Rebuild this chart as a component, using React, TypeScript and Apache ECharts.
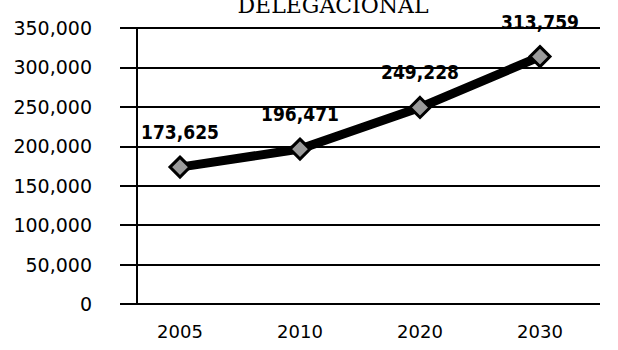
import React, { useEffect, useRef } from "react";
import * as echarts from "echarts";

const titleText = "DELEGACIONAL";
const categories = ["2005", "2010", "2020", "2030"];
const values = [173625, 196471, 249228, 313759];
const yTicks = { min: 0, max: 350000, interval: 50000 };

export default function App() {
  const ref = useRef<HTMLDivElement>(null);
  useEffect(() => {
    if (!ref.current) return;
    const chart = echarts.init(ref.current, undefined, { renderer: "svg" });
    chart.setOption({
      animation: false,
      backgroundColor: "#ffffff",
      title: {
        text: titleText,
        left: 328,
        textAlign: "center",
        top: -11,
        textStyle: {
          fontFamily: "DejaVu Serif",
          fontSize: 22,
          fontWeight: "normal",
          color: "#000",
        },
      },
      grid: { left: 120, right: 18, top: 28, bottom: 46 },
      xAxis: {
        type: "category",
        data: categories,
        boundaryGap: true,
        axisLine: { show: false },
        axisTick: { show: false },
        axisLabel: {
          margin: 18,
          fontFamily: "DejaVu Sans",
          fontSize: 18,
          color: "#000",
        },
      },
      yAxis: {
        type: "value",
        min: yTicks.min,
        max: yTicks.max,
        interval: yTicks.interval,
        offset: -17,
        axisLine: { show: true, lineStyle: { color: "#000", width: 2 } },
        axisTick: { show: false },
        axisLabel: {
          margin: 45,
          fontFamily: "DejaVu Sans",
          fontSize: 19,
          color: "#000",
          formatter: (v: number) => v.toLocaleString("en-US"),
        },
        splitLine: { show: true, lineStyle: { color: "#000", width: 2 } },
      },
      series: [
        {
          type: "line",
          data: values,
          lineStyle: { color: "#000", width: 9, cap: "round", join: "round" },
          symbol: "diamond",
          symbolSize: 20,
          itemStyle: { color: "#9a9a9a", borderColor: "#000", borderWidth: 3 },
          label: {
            show: true,
            position: "top",
            distance: 14,
            fontFamily: "Liberation Sans Narrow, DejaVu Sans Condensed, sans-serif",
            fontWeight: "bold",
            fontSize: 19,
            color: "#000",
            formatter: (p: any) => Number(p.value).toLocaleString("en-US"),
          },
        },
      ],
    });
    return () => chart.dispose();
  }, []);
  return <div ref={ref} style={{ width: 618, height: 350, position: "fixed", left: 0, top: 0 }} />;
}
